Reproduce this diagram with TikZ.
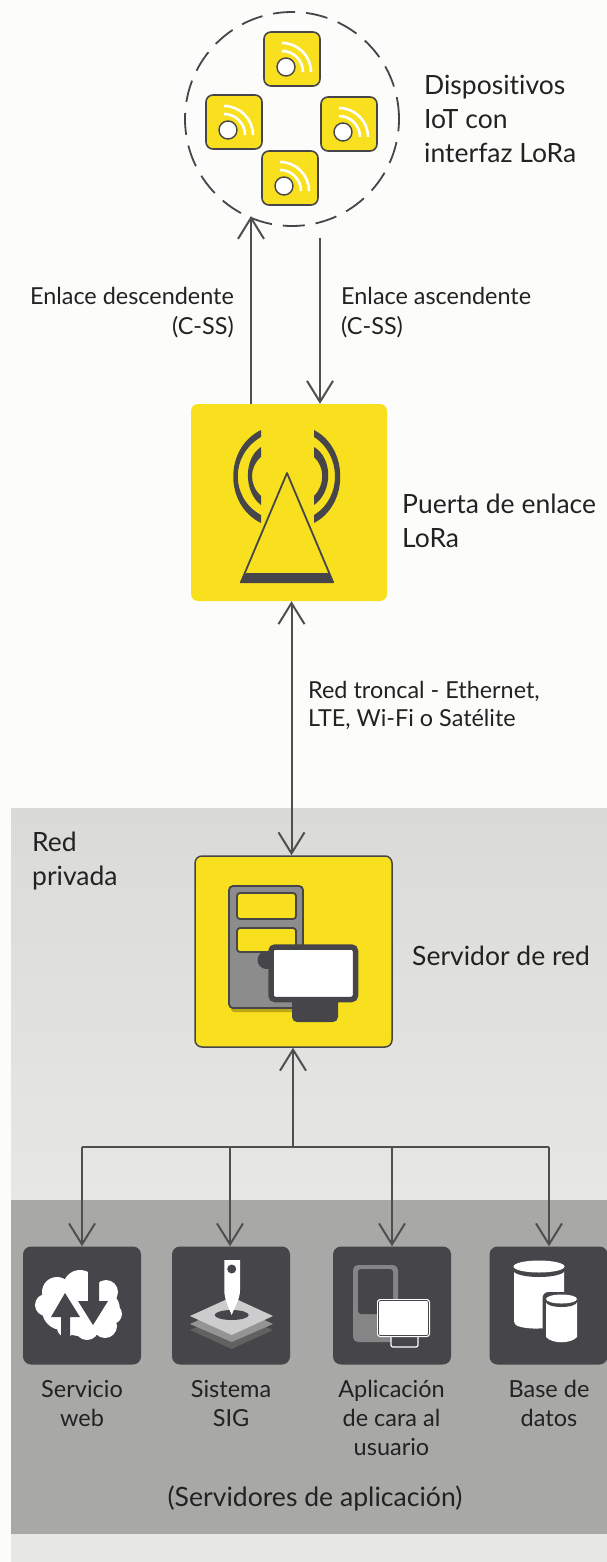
\documentclass[tikz,border=0pt]{standalone}
\usepackage{fontspec}
\setmainfont{Lato}[Ligatures=NoCommon]
\usetikzlibrary{arrows.meta}
\definecolor{ylw}{HTML}{F9E01E}
\definecolor{drk}{HTML}{46464A}
\definecolor{lnk}{HTML}{4F4F4F}
\definecolor{txt}{HTML}{222222}
\definecolor{bg}{HTML}{FCFCFA}
\definecolor{bandt}{HTML}{DADAD8}
\definecolor{bandb}{HTML}{E7E7E4}
\definecolor{dband}{HTML}{A8A8A6}
\tikzset{
  conn/.style={draw=lnk,line width=2pt},
  barb/.tip={Straight Barb[length=21pt,width=26pt,line width=2pt]},
  arr/.style={conn,-barb},
  darr/.style={conn,barb-barb},
  lbl/.style={font=\fontsize{26.5}{34}\selectfont,text=txt,inner sep=0pt,align=left},
  sm/.style={font=\fontsize{23.4}{30}\selectfont,text=txt,inner sep=0pt,align=left},
  smb/.style={font=\fontsize{23.4}{28}\selectfont,text=txt,inner sep=0pt,align=left},
  capt/.style={font=\fontsize{23.5}{29}\selectfont,text=txt,inner sep=0pt,align=center,anchor=north},
  tile/.style={fill=ylw,draw=drk,line width=1.6pt,rounded corners=7pt},
  big/.style={fill=ylw,rounded corners=7pt},
  dtile/.style={fill=drk,rounded corners=8pt,minimum width=118pt,minimum height=118pt,inner sep=0pt},
}
\newcommand{\iot}[3]{%
  \node[tile,minimum width=56pt,minimum height=54pt,inner sep=0pt] (#3) at (#1,#2) {};
  \draw[white,line width=2.6pt] (#1-10,#2-16) arc[start angle=90,end angle=0,radius=29pt];
  \draw[white,line width=2.6pt] (#1-10,#2-8) arc[start angle=90,end angle=0,radius=21pt];
  \fill[white,draw=drk,line width=1.4pt] (#1-6,#2+8) circle (9pt);
}
\begin{document}
\begin{tikzpicture}[x=1pt,y=-1pt]
\useasboundingbox (0,0) rectangle (607,1562);
\fill[bg] (0,0) rectangle (607,1562);
% bands
\shade[top color=bandt,bottom color=bandb] (11,808) rectangle (607,1200);
\fill[bandb] (11,1534) rectangle (607,1562);
\fill[dband] (11,1200) rectangle (607,1534);
% IoT
\node[draw=drk,dash pattern=on 22pt off 11pt,line width=1.8pt,circle,minimum size=214pt,inner sep=0pt] (cloud) at (292,119) {};
\iot{292}{59}{d1}
\iot{234}{122}{d2}
\iot{349}{124}{d3}
\iot{290}{178}{d4}
\node[lbl,anchor=north west] (tiot) at (424,75) {Dispositivos\\IoT con\\interfaz LoRa};
% gateway
\node[big,minimum width=196pt,minimum height=197pt,inner sep=0pt] (gw) at (289,502.5) {};
\fill[drk] (261,430) .. controls (224,448) and (224,505) .. (261,523) -- (261,515) .. controls (230,498) and (230,455) .. (261,437) -- cycle;
\fill[drk] (261,447) .. controls (243.5,458) and (243.5,492) .. (261,505) -- (261,496) .. controls (249,485) and (249,467) .. (261,457) -- cycle;
\fill[drk] (314,430) .. controls (349,448) and (349,505) .. (314,523) -- (314,515) .. controls (342,498) and (342,455) .. (314,437) -- cycle;
\fill[drk] (314,447) .. controls (333,458) and (333,492) .. (314,505) -- (314,496) .. controls (325,485) and (325,467) .. (314,457) -- cycle;
\draw[drk,line width=1.8pt,line join=round] (287,473) -- (241,582) -- (333,582) -- cycle;
\fill[drk] (246,573) -- (329,573) -- (334,583) -- (240,583) -- cycle;
\node[lbl,anchor=north west] (tgw) at (402,493.5) {Puerta de enlace\\LoRa};
% server
\node[big,draw=drk,line width=1.5pt,minimum width=197pt,minimum height=191pt,inner sep=0pt] (srv) at (293.5,951.5) {};
\fill[ylw!75!black,rounded corners=3pt] (231,1000) rectangle (300,1012);
\draw[drk,fill=black!45,line width=1.8pt,rounded corners=4pt] (229,886) rectangle (303,1008);
\draw[drk,fill=ylw,line width=1.8pt,rounded corners=3pt] (237,893) rectangle (296,919);
\draw[drk,fill=ylw,line width=1.8pt,rounded corners=3pt] (237,928) rectangle (296,952);
\fill[drk] (266.5,960) circle (9pt);
\fill[drk,rounded corners=5pt] (292,996) rectangle (338,1022);
\draw[drk,fill=white,line width=5.5pt,rounded corners=4pt] (271,947) rectangle (355.5,999.5);
\node[lbl,anchor=north west] (tsrv) at (412,946) {Servidor de red};
% privada
\node[lbl,anchor=north west] (tpriv) at (32,831.5) {Red\\privada};
% dark tiles
\node[dtile] (a1) at (82,1305.5) {};
\node[dtile] (a2) at (231,1305.5) {};
\node[dtile] (a3) at (392,1305.5) {};
\node[dtile] (a4) at (548.5,1305.5) {};
% cloud icon
\fill[white] (57,1292) circle (15pt) (46,1305) circle (11pt) (55,1317) circle (10pt) (80,1287) circle (17pt) (106,1292) circle (12pt) (112,1314) circle (10pt) (105,1326) circle (12pt) (87,1328) circle (12pt) (66,1328) circle (9pt) (80,1308) circle (28pt) (98,1310) circle (22pt) (62,1310) circle (20pt);
\fill[drk] (65,1293) -- (51,1317) -- (61,1317) -- (61,1342) -- (70,1342) -- (70,1317) -- (80,1317) -- cycle;
\fill[drk] (88,1268) -- (99,1268) -- (99,1301) -- (108,1301) -- (93,1325) -- (78,1301) -- (88,1301) -- cycle;
% SIG icon
\fill[black!62] (190,1330) -- (231.7,1312) -- (273,1330) -- (231.7,1349) -- cycle;
\fill[black!42] (190,1324) -- (231.7,1305) -- (273,1324) -- (231.7,1342) -- cycle;
\fill[black!20] (190,1316) -- (231.7,1297) -- (273,1316) -- (231.7,1335) -- cycle;
\fill[drk] (231.7,1315) ellipse (17pt and 5pt);
\fill[white] (224.3,1260) -- (240,1260) -- (240,1290) .. controls (240,1300) and (234,1308) .. (231.7,1315) .. controls (229,1308) and (224.3,1300) .. (224.3,1290) -- cycle;
\fill[drk] (231.7,1269) circle (4.5pt);
% app icon
\fill[black!48,rounded corners=5pt] (353,1265) rectangle (398,1342);
\fill[drk,rounded corners=3pt] (358,1269) rectangle (393,1314);
\draw[white,fill=drk,line width=1.2pt,rounded corners=2pt] (391,1330) rectangle (418,1347);
\fill[white,rounded corners=3pt] (377,1299) rectangle (430,1337);
\draw[drk,line width=.7pt,rounded corners=2pt] (378.5,1300.5) rectangle (428.5,1335.5);
% db icon
\fill[white,rounded corners=3pt] (514,1268) -- (514,1324) .. controls (525,1330) and (555,1330) .. (564,1320) -- (564,1268) -- cycle;
\fill[drk] (539,1270.5) ellipse (25.5pt and 6.5pt);
\fill[white] (539,1266.5) ellipse (25.5pt and 6pt);
\fill[drk,rounded corners=6pt] (542.5,1292) rectangle (580.5,1346);
\fill[white] (546,1302) -- (546,1337) .. controls (552,1344) and (571,1344) .. (577,1337) -- (577,1302) -- cycle;
\fill[drk] (561.5,1302) ellipse (15.5pt and 5pt);
\fill[white] (561.5,1299) ellipse (15.5pt and 4.5pt);
% captions
\node[capt] (c1) at (82,1380) {Servicio\\web};
\node[capt] (c2) at (231,1380) {Sistema\\SIG};
\node[capt] (c3) at (391.5,1380) {Aplicación\\de cara al\\usuario};
\node[capt] (c4) at (549,1380) {Base de\\datos};
\node[font=\fontsize{26.6}{30}\selectfont,text=txt,inner sep=0pt] (tapp) at (315,1498) {(Servidores de aplicación)};
% connectors
\coordinate (dnt) at (251,216);
\coordinate (upb) at (320,238);
\draw[arr] (gw.north -| dnt) -- (dnt);
\draw[arr] (upb) -- (gw.north -| upb);
\node[sm,anchor=north east,align=right] (tdn) at (234,287) {Enlace descendente\\(C-SS)};
\node[sm,anchor=north west] (tup) at (341,287) {Enlace ascendente\\(C-SS)};
\coordinate (bk) at (291.5,700);
\draw[darr] (gw.south -| bk) -- (srv.north -| bk);
\node[smb,anchor=north west] (tbk) at (308,681) {Red troncal - Ethernet,\\LTE, Wi-Fi o Satélite};
\coordinate (bus) at (293,1147);
\draw[arr] (bus) -- (srv.south -| bus);
\coordinate (b1) at (82,1147);
\coordinate (b2) at (230,1147);
\coordinate (b3) at (392,1147);
\coordinate (b4) at (549,1147);
\draw[arr] (b1) -- (a1.north -| b1);
\draw[arr] (b2) -- (a2.north -| b2);
\draw[arr] (b3) -- (a3.north -| b3);
\draw[arr] (b4) -- (a4.north -| b4);
\draw[conn] (b1) -- (b4);
\end{tikzpicture}
\end{document}
